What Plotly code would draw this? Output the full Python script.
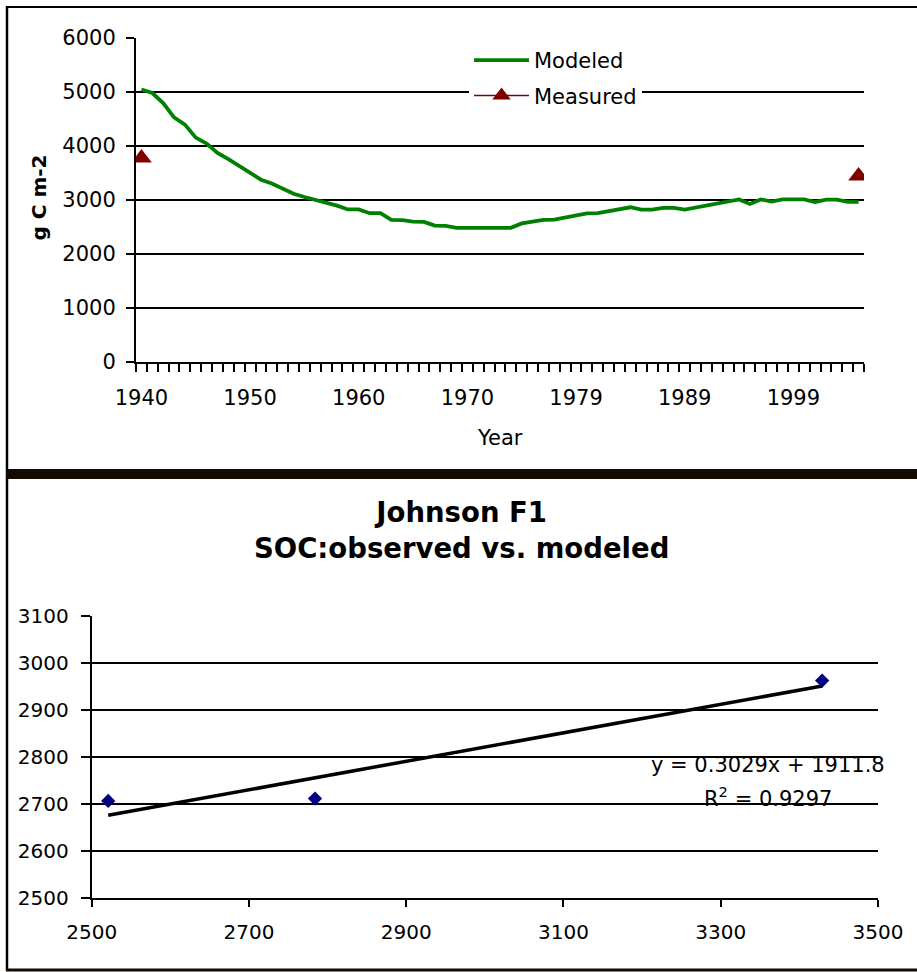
import plotly.graph_objects as go

# ---------------- data ----------------
# Top chart: modeled SOC (g C m-2), one value per category (year slot)
modeled = [5040, 4975, 4790, 4525, 4390, 4150, 4040, 3865, 3750, 3630,
           3505, 3370, 3300, 3200, 3110, 3050, 3000, 2940, 2890, 2820,
           2820, 2750, 2750, 2625, 2620, 2595, 2590, 2520, 2515, 2480,
           2480, 2480, 2480, 2480, 2480, 2560, 2595, 2625, 2630, 2670,
           2705, 2745, 2750, 2790, 2820, 2860, 2815, 2815, 2850, 2850,
           2815, 2850, 2895, 2935, 2970, 3005, 2920, 3005, 2965, 3005,
           3005, 3005, 2955, 3000, 3000, 2960, 2960]
# Measured SOC: first and last year only
measured_first = 3770
measured_last = 3440
# category-axis labels (every 10th category)
year_labels = ["1940", "1950", "1960", "1970", "1979", "1989", "1999"]
label_step = 10

# Bottom chart: observed vs modeled
soc_x = [2521, 2784, 3429]
soc_y = [2706, 2711, 2962]
trend_slope = 0.3029
trend_intercept = 1911.8
trend_r2 = 0.9297

# ---------------- figure ----------------
W, H = 917, 972
def px(x):
    return x / W
def py(y):
    return 1 - y / H

n = len(modeled)
cats = list(range(n))
measured = [None] * n
measured[0] = measured_first
measured[-1] = measured_last

FONT = "DejaVu Sans"
fig = go.Figure()

fig.add_trace(go.Scatter(
    x=cats, y=modeled, mode="lines", name="Modeled",
    line=dict(color="#008000", width=3.8), legendgroup="a",
    xaxis="x", yaxis="y"))
fig.add_trace(go.Scatter(
    x=cats, y=measured, mode="lines+markers", name="Measured",
    line=dict(color="#800000", width=1.5),
    marker=dict(symbol="triangle-up", size=18, color="#800000"),
    connectgaps=False, legendgroup="b",
    xaxis="x", yaxis="y"))

tx = [min(soc_x), max(soc_x)]
ty = [trend_slope * v + trend_intercept for v in tx]
fig.add_trace(go.Scatter(
    x=tx, y=ty, mode="lines", showlegend=False,
    line=dict(color="black", width=3.5), xaxis="x2", yaxis="y2"))
fig.add_trace(go.Scatter(
    x=soc_x, y=soc_y, mode="markers", showlegend=False,
    marker=dict(symbol="diamond", size=11, color="#000080"),
    xaxis="x2", yaxis="y2"))

axis_common = dict(showline=True, linecolor="black", linewidth=2,
                   zeroline=False, tickcolor="black", automargin=False)

fig.update_layout(
    template="none",
    width=W, height=H,
    margin=dict(l=0, r=0, t=0, b=0, pad=0),
    paper_bgcolor="white", plot_bgcolor="white",
    font=dict(family=FONT, color="black"),
    showlegend=True,
    legend=dict(x=px(469), y=py(40), xanchor="left", yanchor="top",
                bgcolor="white", borderwidth=0,
                font=dict(family=FONT, size=21, color="black"),
                itemwidth=55, tracegroupgap=5),
    xaxis=dict(domain=[px(136), px(864)], anchor="y",
               range=[-0.5, n - 0.5],
               tickmode="array",
               tickvals=[i * label_step for i in range(len(year_labels))],
               ticktext=year_labels,
               ticks="", showgrid=False,
               tickfont=dict(family=FONT, size=21),
               ticklabelstandoff=16,
               minor=dict(ticks="outside", ticklen=8, tickwidth=1.5,
                          tickcolor="black", tick0=-0.5, dtick=1,
                          showgrid=False),
               **axis_common),
    yaxis=dict(domain=[py(361.7), py(37.7)], anchor="x",
               range=[0, 6000], dtick=1000, tick0=0,
               ticks="outside", ticklen=8, tickwidth=2,
               showgrid=True, gridcolor="black", gridwidth=1.5,
               tickfont=dict(family=FONT, size=21),
               ticklabelstandoff=6,
               **axis_common),
    xaxis2=dict(domain=[px(91.7), px(878)], anchor="y2",
                range=[2500, 3500], dtick=200, tick0=2500,
                ticks="outside", ticklen=7, tickwidth=1.5,
                showgrid=False,
                tickfont=dict(family=FONT, size=20),
                ticklabelstandoff=8,
                **axis_common),
    yaxis2=dict(domain=[py(897.7), py(615.7)], anchor="x2",
                range=[2500, 3100], dtick=100, tick0=2500,
                ticks="outside", ticklen=9, tickwidth=2,
                showgrid=True, gridcolor="black", gridwidth=1.5,
                tickfont=dict(family=FONT, size=20),
                ticklabelstandoff=8,
                **axis_common),
)

# panel borders and separator
shapes = [
    dict(type="line", xref="paper", yref="paper", x0=px(6), x1=1,
         y0=py(7), y1=py(7), line=dict(color="black", width=2)),
    dict(type="line", xref="paper", yref="paper", x0=px(7), x1=px(7),
         y0=py(6), y1=py(971), line=dict(color="black", width=2.5)),
    dict(type="rect", xref="paper", yref="paper", x0=px(6), x1=1,
         y0=py(479), y1=py(469), line=dict(width=0), fillcolor="#140a00"),
    dict(type="line", xref="paper", yref="paper", x0=px(6), x1=1,
         y0=py(970), y1=py(970), line=dict(color="#140a00", width=3)),
]
fig.update_layout(shapes=shapes)

annotations = [
    dict(text="<b>g C m-2</b>", x=px(39), y=py(197.5), xref="paper",
         yref="paper", textangle=-90, showarrow=False,
         xanchor="center", yanchor="middle",
         font=dict(family=FONT, size=20, color="black")),
    dict(text="Year", x=px(500), y=py(438), xref="paper", yref="paper",
         showarrow=False, xanchor="center", yanchor="middle",
         font=dict(family=FONT, size=21, color="black")),
    dict(text="<b>Johnson F1<br>SOC:observed vs. modeled</b>",
         x=px(462), y=py(530), xref="paper", yref="paper",
         showarrow=False, xanchor="center", yanchor="middle",
         font=dict(family=FONT, size=27.5, color="black")),
    dict(text="y = %.4fx + %.1f" % (trend_slope, trend_intercept),
         x=px(768), y=py(765), xref="paper", yref="paper",
         showarrow=False, xanchor="center", yanchor="middle",
         font=dict(family=FONT, size=21, color="black")),
    dict(text="R<sup>2</sup> = %.4f" % trend_r2,
         x=px(768), y=py(797), xref="paper", yref="paper",
         showarrow=False, xanchor="center", yanchor="middle",
         font=dict(family=FONT, size=21, color="black")),
]
fig.update_layout(annotations=annotations)

fig.write_html(
    "out.html",
    config={"displayModeBar": False},
    post_script="document.body.style.margin='0px';"
                "document.body.style.overflow='hidden';")
